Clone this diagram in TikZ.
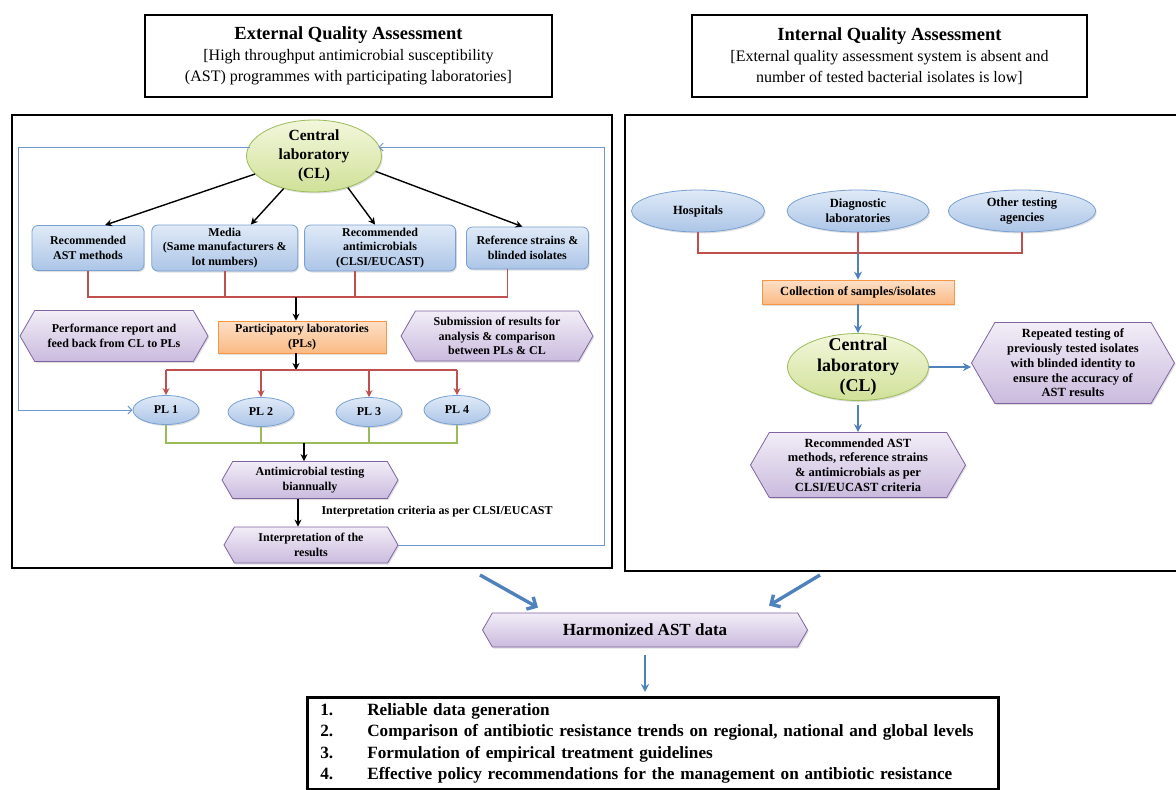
\documentclass[tikz,border=0pt]{standalone}
\usepackage{fontspec}
\setmainfont{Liberation Serif}
\usetikzlibrary{positioning,calc,arrows.meta,shapes.geometric,shapes.symbols,shadows}
\definecolor{boxTop}{RGB}{224,234,247}
\definecolor{boxBot}{RGB}{172,197,231}
\definecolor{boxLine}{RGB}{120,160,210}
\definecolor{clTop}{RGB}{243,247,220}
\definecolor{clBot}{RGB}{208,225,152}
\definecolor{clLine}{RGB}{155,187,89}
\definecolor{orgTop}{RGB}{253,224,200}
\definecolor{orgBot}{RGB}{250,186,132}
\definecolor{orgLine}{RGB}{247,150,70}
\definecolor{purTop}{RGB}{242,237,247}
\definecolor{purBot}{RGB}{202,187,222}
\definecolor{purLine}{RGB}{128,100,162}
\definecolor{redLine}{RGB}{192,80,77}
\definecolor{grnLine}{RGB}{155,187,89}
\definecolor{arrBlue}{RGB}{79,129,189}
\definecolor{fbBlue}{RGB}{110,150,210}

\begin{document}
\begin{tikzpicture}[
  x=1pt,y=-1pt,
  font=\bfseries\fontsize{12}{14.5}\selectfont,
  soft/.style={drop shadow={opacity=0.25,shadow xshift=1.2pt,shadow yshift=-1.5pt}},
  header/.style={draw=black,line width=2.8pt,align=center,inner sep=2pt,
                 minimum height=82pt,font=\fontsize{16}{21}\selectfont},
  bluebox/.style={soft,draw=boxLine,line width=0.8pt,rounded corners=6pt,
                  top color=boxTop,bottom color=boxBot,align=center,inner sep=1pt},
  srcell/.style={soft,ellipse,draw=boxLine,line width=0.8pt,top color=boxTop,
                 bottom color=boxBot,align=center,inner sep=0pt},
  plell/.style={srcell,minimum width=66pt,minimum height=29pt},
  clell/.style={soft,ellipse,draw=clLine,line width=0.8pt,top color=clTop,
                bottom color=clBot,align=center,inner sep=-5pt},
  orngbox/.style={soft,draw=orgLine,line width=0.8pt,top color=orgTop,
                  bottom color=orgBot,align=center,inner sep=1pt},
  hexbox/.style={soft,signal,signal to=west and east,signal pointer angle=120,
                 draw=purLine,line width=0.8pt,top color=purTop,
                 bottom color=purBot,align=center,inner sep=2pt},
  tr/.style={-{Stealth[length=7pt,width=7pt]},line width=1.4pt,draw=black},
  redln/.style={draw=redLine,line width=1.6pt},
  redarr/.style={redln,-{Stealth[length=7pt,width=7pt]}},
  grnln/.style={draw=grnLine,line width=1.6pt},
  bluarr/.style={-{Stealth[length=8pt,width=8pt]},draw=arrBlue,line width=1.8pt},
  fbln/.style={-{Straight Barb[length=4pt,width=8pt]},draw=fbBlue,line width=1pt},
  bigarr/.style={-{Straight Barb[length=7pt,width=14pt]},draw=arrBlue,line width=3.4pt}
]
\useasboundingbox (0,0) rectangle (1176,790);

% ==========  Headers  ==========
\node[header,minimum width=407pt] (hdrE) at (348.5,56)
  {{\bfseries\fontsize{18.5}{21}\selectfont External Quality Assessment}\\
   {[}High throughput antimicrobial susceptibility\\
   (AST) programmes with participating laboratories]};
\node[header,minimum width=395pt] (hdrI) at (889.5,56)
  {{\bfseries\fontsize{18.5}{21}\selectfont Internal Quality Assessment}\\
   {[}External quality assessment system is absent and\\
   number of tested bacterial isolates is low]};

% panel frames (the right one runs off the page)
\draw[line width=2pt] (12,115) rectangle (612,568);
\draw[line width=2pt] (1176,115) -| (625,571) -- (1176,571);

% ==========  EXTERNAL QA (left panel)  ==========
\node[clell,minimum width=135pt,minimum height=72pt,
      font=\bfseries\fontsize{15.5}{19}\selectfont] (cl) at (314,156)
  {Central\\laboratory\\(CL)};

\node[bluebox,minimum width=112pt,minimum height=45pt] (astm) at (88,248)
  {Recommended\\AST methods};
\node[bluebox,minimum width=146pt,minimum height=46pt,right=7pt of astm] (media)
  {Media\\(Same manufacturers \&\\lot numbers)};
\node[bluebox,minimum width=151pt,minimum height=46pt,right=6pt of media] (antim)
  {Recommended\\antimicrobials\\(CLSI/EUCAST)};
\node[bluebox,minimum width=122pt,minimum height=42pt,right=10pt of antim] (refs)
  {Reference strains \&\\blinded isolates};

\draw[tr] (cl.197) -- ($(astm.north)+(17,0)$);
\draw[tr] (cl.227) -- ($(media.north)+(26,0)$);
\draw[tr] (cl.317) -- ($(antim.north)+(-5,0)$);
\draw[tr] (cl.346) -- ($(refs.north)+(-5,0)$);

% red collector under the four boxes
\coordinate (busA) at (296,297);
\coordinate (antimD) at ($(antim.south)+(-25,0)$);
\coordinate (refsD) at ($(refs.south)+(-20,0)$);
\draw[redln] (astm.south) |- (refsD |- busA) -- (refsD);
\draw[redln] (media.south) -- (media.south |- busA);
\draw[redln] (antimD) -- (antimD |- busA);

\node[orngbox,minimum width=168pt,minimum height=32pt] (pls) at (302,337)
  {Participatory laboratories\\(PLs)};
\draw[tr] (busA) -- (busA |- pls.north);

\node[hexbox,minimum width=188pt,minimum height=51pt] (perf) at (114,336)
  {Performance report and\\feed back from CL to PLs};
\node[hexbox,minimum width=192pt,minimum height=50pt] (subm) at (497,336)
  {Submission of results for\\analysis \& comparison\\between PLs \& CL};

% participating labs
\node[plell] (pl1) at (166,410) {PL 1};
\node[plell] (pl2) at (261,412) {PL 2};
\node[plell] (pl3) at (369,412) {PL 3};
\node[plell] (pl4) at (457,410) {PL 4};

\coordinate (busB) at (296,370);
\draw[tr] (busB |- pls.south) -- (busB);
\draw[redln] (pl1.north |- busB) -- (pl4.north |- busB);
\draw[redarr] (pl1.north |- busB) -- (pl1.north);
\draw[redarr] (pl2.north |- busB) -- (pl2.north);
\draw[redarr] (pl3.north |- busB) -- (pl3.north);
\draw[redarr] (pl4.north |- busB) -- (pl4.north);

\coordinate (busC) at (304,443);
\draw[grnln] (pl1.south) |- (pl4.south |- busC) -- (pl4.south);
\draw[grnln] (pl2.south) -- (pl2.south |- busC);
\draw[grnln] (pl3.south) -- (pl3.south |- busC);

\node[hexbox,minimum width=176pt,minimum height=37pt] (atb) at (310,480)
  {Antimicrobial testing\\biannually};
\draw[tr] (busC) -- (busC |- atb.north);

\node[hexbox,minimum width=174pt,minimum height=36pt] (interp) at (311,545)
  {Interpretation of the\\results};
\coordinate (midI) at (298,0);
\draw[tr] (atb.south -| midI) -- (interp.north -| midI);
\node[anchor=west] (crit) at (318,512) {Interpretation criteria as per CLSI/EUCAST};

% feedback loops (thin blue)
\coordinate (fbR) at (604,147);
\coordinate (fbL) at (18,147);
\draw[fbln] (interp.east) -| (fbR) -- (fbR -| cl.10);
\draw[fbln] (fbL -| cl.170) -- (fbL) |- (pl1.west);

% ==========  INTERNAL QA (right panel)  ==========
\begin{scope}[font=\bfseries\fontsize{12.5}{14.7}\selectfont]
\node[srcell,minimum width=133pt,minimum height=42pt] (hosp) at (698,211) {Hospitals};
\node[srcell,minimum width=142pt,minimum height=42pt] (diag) at (858,211)
  {Diagnostic\\laboratories};
\node[srcell,minimum width=147pt,minimum height=42pt] (other) at (1022,211)
  {Other testing\\agencies};

\coordinate (busD) at (858,253);
\draw[redln] (hosp.south) |- (other.south |- busD) -- (other.south);
\draw[redln] (diag.south) -- (busD);

\node[orngbox,minimum width=192pt,minimum height=24pt] (coll) at (858,292)
  {Collection of samples/isolates};
\draw[bluarr] (busD) -- (coll.north);

\node[clell,minimum width=141pt,minimum height=67pt,
      font=\bfseries\fontsize{18}{20.5}\selectfont] (cl2) at (858,367)
  {Central\\laboratory\\(CL)};
\draw[bluarr] (coll.south) -- (cl2.north);

\node[hexbox,minimum width=203pt,minimum height=81pt] (rept) at (1073,363)
  {Repeated testing of\\previously tested isolates\\with blinded identity to\\ensure the accuracy of\\AST results};
\draw[bluarr] (cl2.east) -- (cl2.east -| rept.west);

\node[hexbox,minimum width=215pt,minimum height=65pt] (recm) at (858,465)
  {Recommended AST\\methods, reference strains\\\& antimicrobials as per\\CLSI/EUCAST criteria};
\draw[bluarr,shorten <=4pt] (cl2.south) -- (recm.north);
\end{scope}

% ==========  Merge + outcomes (bottom)  ==========
\node[hexbox,minimum width=325pt,minimum height=34pt,
      font=\bfseries\fontsize{17}{20}\selectfont] (harm) at (645,630)
  {Harmonized AST data};

\coordinate (fromE) at (480,575);
\coordinate (fromI) at (820,575);
\coordinate (toE) at ($(harm.north)+(-107,-5)$);
\coordinate (toI) at ($(harm.north)+(124,-7)$);
\draw[bigarr] (fromE) -- (toE);
\draw[bigarr] (fromI) -- (toI);

\node[draw=black,line width=2.6pt,text width=665pt,align=left,inner xsep=13pt,
      minimum height=92pt,font=\bfseries\fontsize{17.2}{21.3}\selectfont,
      anchor=north west] (uses) at (306,696)
  {\begin{tabular}{@{}p{35pt}l@{}}
   1. & Reliable data generation\\
   2. & Comparison of antibiotic resistance trends on regional, national and global levels\\
   3. & Formulation of empirical treatment guidelines\\
   4. & Effective policy recommendations for the management on antibiotic resistance
   \end{tabular}};
\draw[bluarr,line width=2.4pt,shorten <=8pt,shorten >=4pt] (harm.south) -- (harm.south |- uses.north);

\end{tikzpicture}
\end{document}
